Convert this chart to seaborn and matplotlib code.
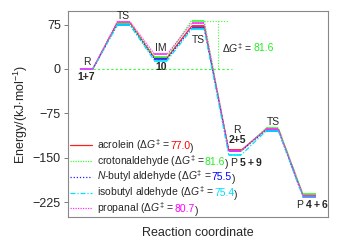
#!/usr/bin/env python3
# Energy profile of aldehyde reaction pathways

import matplotlib
matplotlib.use("Agg")
import matplotlib.pyplot as plt
import seaborn as sns
import pandas as pd

compounds = ["acrolein", "crotonaldehyde", "N-butyl aldehyde", "isobutyl aldehyde", "propanal"]
legend_names = ["acrolein", "crotonaldehyde", "$N$-butyl aldehyde", "isobutyl aldehyde", "propanal"]
dG = ["77.0", "81.6", "75.5", "75.4", "80.7"]

# levels: R(1+7), TS, IM(10), TS, R(2+5), TS, P(4+6)
energies = {
    "acrolein":          [0, 78, 19, 72, -137, -102, -213],
    "crotonaldehyde":    [0, 77, 21, 81.6, -139, -100, -211],
    "N-butyl aldehyde":  [0, 75, 17, 69, -138, -104, -216],
    "isobutyl aldehyde": [0, 74, 14, 67, -145, -105, -216],
    "propanal":          [0, 80, 25, 77, -138, -102, -214],
}

colors = ["#ff2020", "#33ff33", "#2020ff", "#00e5ff", "#ff33ff"]
text_colors = ["#ff0000", "#22ee22", "#0000ff", "#00ddff", "#ff00ff"]
dashes = {"acrolein": "", "crotonaldehyde": (1, 1), "N-butyl aldehyde": (1, 1.5),
          "isobutyl aldehyde": (4, 1.5, 1, 1.5), "propanal": (1, 1)}

half = 0.17

sns.set_style("white")
plt.rcParams["font.family"] = ["Liberation Sans", "DejaVu Sans"]
plt.rcParams["mathtext.fontset"] = "custom"
plt.rcParams["mathtext.rm"] = "Liberation Sans"
plt.rcParams["mathtext.it"] = "Liberation Sans:italic"
plt.rcParams["mathtext.bf"] = "Liberation Sans:bold"


def colored_tail(ax, anchor, val, color, z=7):
    # number in colour followed by a black ")" right after an existing text
    a = ax.annotate(val, xy=(1, 0), xycoords=anchor, xytext=(0, 1.4),
                    textcoords="offset points", va="bottom", ha="left",
                    fontsize=7.5, color=color, zorder=z)
    return a


def main():
    rows = []
    for c in compounds:
        for i, e in enumerate(energies[c]):
            rows.append({"compound": c, "x": i - half, "E": e})
            rows.append({"compound": c, "x": i + half, "E": e})
    df = pd.DataFrame(rows)

    fig = plt.figure(figsize=(3.38, 2.42), dpi=100)
    ax = fig.add_axes([0.201, 0.103, 0.769, 0.852])

    sns.lineplot(data=df, x="x", y="E", hue="compound", style="compound",
                 palette=dict(zip(compounds, colors)), dashes=dashes,
                 estimator=None, sort=False, linewidth=0.9, ax=ax)

    for c, col in zip(compounds, colors):
        for i, e in enumerate(energies[c]):
            ax.hlines(e, i - half, i + half, color=col, linewidth=1.2, zorder=3)

    # delta G annotation (crotonaldehyde)
    g = colors[1]
    ax.plot([half, 3.92], [0, 0], color=g, linestyle=(0, (2, 2)), linewidth=0.8)
    ax.plot([3 + half, 3.82], [81.6, 81.6], color=g, linestyle=(0, (1, 1.5)), linewidth=0.8)
    ax.plot([3.55, 3.55], [0, 81.6], color=g, linestyle=(0, (1, 1.5)), linewidth=0.8)
    t = ax.text(3.66, 35, r"$\Delta G^{\ddagger}$ = ", fontsize=7.5, va="center", ha="left")
    colored_tail(ax, t, "81.6", text_colors[1])

    fs = 7.5
    ax.text(0, 12, "R", fontsize=fs, ha="center", va="center")
    ax.text(0, -13, "1+7", fontsize=fs, ha="center", va="center", fontweight="bold")
    ax.text(1, 90, "TS", fontsize=fs, ha="center", va="center")
    ax.text(2, 35, "IM", fontsize=fs, ha="center", va="center")
    ax.text(2, 4, "10", fontsize=fs, ha="center", va="center", fontweight="bold")
    ax.text(3, 49, "TS", fontsize=fs, ha="center", va="center")
    ax.text(4.05, -103, "R", fontsize=fs, ha="center", va="center")
    ax.text(4.07, -120, "2+5", fontsize=fs, ha="center", va="center", fontweight="bold")
    ax.text(3.87, -157, r"P $\mathbf{5+9}$", fontsize=fs, ha="left", va="center")
    ax.text(5.03, -89, "TS", fontsize=fs, ha="center", va="center")
    ax.text(6.07, -228, r"P $\mathbf{4+6}$", fontsize=fs, ha="center", va="center")

    handles, _ = ax.get_legend_handles_labels()
    labels = [n + r" ($\Delta G^{\ddagger}$ = " for n in legend_names]
    leg = ax.legend(handles[-5:], labels, loc="lower left", bbox_to_anchor=(-0.01, -0.015),
                    frameon=False, fontsize=7.5, handlelength=2.2, handletextpad=0.4,
                    labelspacing=0.0, borderaxespad=0.0)
    leg.set_zorder(5)
    for txt, val, tc in zip(leg.get_texts(), dG, text_colors):
        a = colored_tail(ax, txt, val, tc)
        ax.annotate(")", xy=(1, 0), xycoords=a, va="baseline", ha="left",
                    fontsize=7.5, zorder=8)

    ax.set_xlim(-0.5, 6.5)
    ax.set_ylim(-250, 98)
    ax.set_yticks([75, 0, -75, -150, -225])
    ax.set_xticks([])
    ax.tick_params(axis="y", labelsize=9, length=3, width=0.6, left=True, color="#666666", pad=2)
    for s in ax.spines.values():
        s.set_color("#888888")
        s.set_linewidth(0.8)
    ax.set_xlabel("Reaction coordinate", fontsize=9, labelpad=7)
    ax.set_ylabel(r"Energy/(kJ$\cdot$mol$^{-1}$)", fontsize=9, labelpad=2)

    fig.savefig("out.png", dpi=100)


if __name__ == "__main__":
    main()
